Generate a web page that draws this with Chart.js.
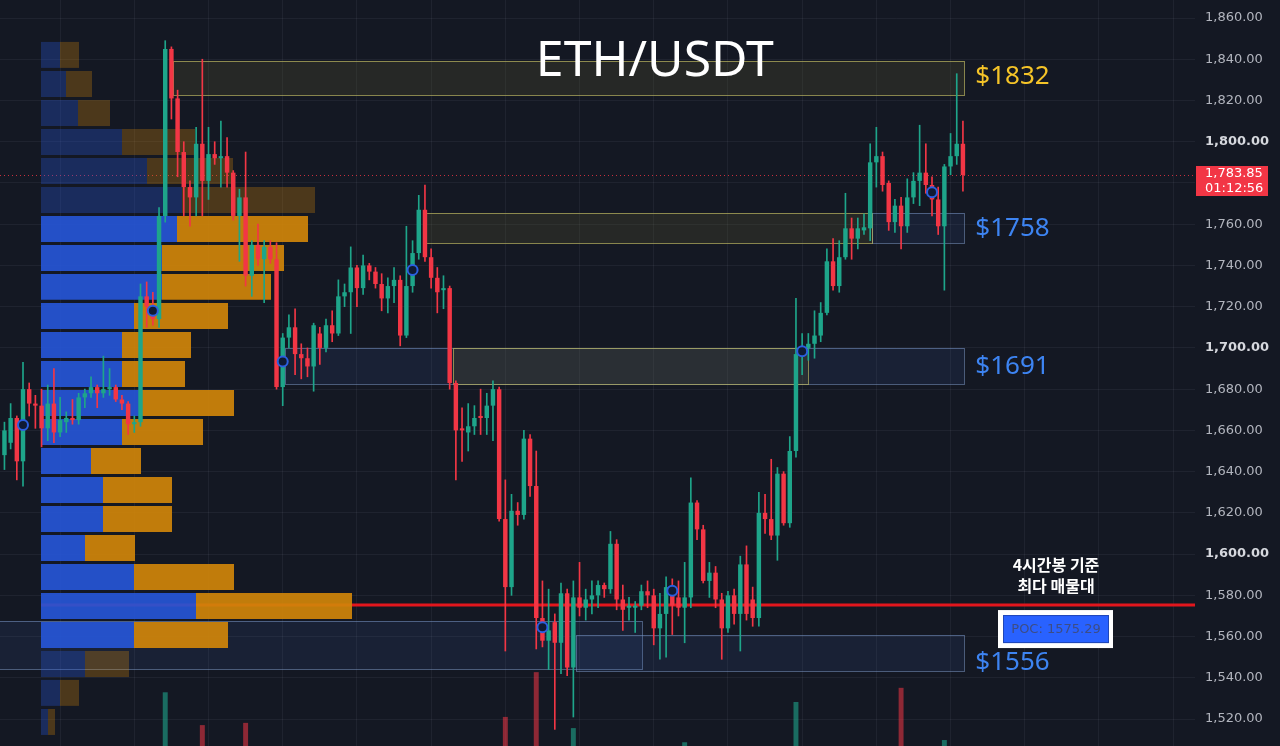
<!DOCTYPE html>
<html>
<head>
<meta charset="utf-8">
<title>ETH/USDT</title>
<script src="https://cdn.jsdelivr.net/npm/chart.js@4.4.1/dist/chart.umd.min.js"></script>
<style>
    html, body { margin: 0; padding: 0; background: #141823; }
    #wrap { position: relative; width: 1280px; height: 746px; }
    canvas { display: block; }
</style>
</head>
<body>
<div id="wrap"><canvas id="chart" width="1280" height="746"></canvas></div>
<script>
// 4h candles, oldest first
const opens = [
    1648, 1654, 1666, 1645, 1680, 1673, 1672, 1661, 1673, 1659,
    1664, 1666, 1665, 1676, 1678, 1681, 1678, 1680, 1681, 1675,
    1673, 1663, 1664, 1725, 1720, 1714, 1764, 1845, 1821, 1795,
    1778, 1773, 1799, 1781, 1794, 1792, 1793, 1785, 1764, 1773,
    1735, 1750, 1743, 1749, 1743, 1681, 1705, 1710, 1697, 1695,
    1691, 1707, 1700, 1711, 1707, 1725, 1727, 1739, 1729, 1740,
    1737, 1731, 1724, 1730, 1733, 1706, 1730, 1746, 1767, 1744,
    1734, 1728, 1729, 1683, 1661, 1659, 1662, 1667, 1666, 1672,
    1680, 1617, 1584, 1621, 1619, 1656, 1633, 1569, 1558, 1567,
    1557, 1581, 1545, 1579, 1574, 1578, 1580, 1585, 1583, 1605,
    1578, 1574, 1574, 1575, 1582, 1580, 1564, 1571, 1582, 1579,
    1574, 1579, 1625, 1612, 1587, 1591, 1578, 1564, 1580, 1571,
    1595, 1578, 1569, 1620, 1617, 1609, 1639, 1615, 1650, 1697,
    1700, 1702, 1706, 1717, 1742, 1730, 1744, 1758, 1753, 1757,
    1758, 1790, 1793, 1780, 1761, 1769, 1759, 1773, 1781, 1785,
    1779, 1772, 1759, 1788, 1793, 1799
];
const highs = [
    1664, 1673, 1667, 1693, 1683, 1677, 1680, 1682, 1690, 1676,
    1669, 1675, 1678, 1680, 1686, 1682, 1696, 1690, 1682, 1677,
    1674, 1667, 1731, 1732, 1727, 1768, 1849, 1846, 1825, 1800,
    1781, 1807, 1840, 1807, 1800, 1810, 1802, 1786, 1777, 1795,
    1752, 1760, 1752, 1752, 1751, 1707, 1716, 1719, 1702, 1700,
    1712, 1710, 1714, 1718, 1733, 1731, 1749, 1740, 1745, 1741,
    1739, 1736, 1734, 1739, 1735, 1759, 1752, 1774, 1779, 1748,
    1739, 1735, 1730, 1684, 1671, 1673, 1672, 1680, 1678, 1684,
    1681, 1636, 1629, 1625, 1660, 1658, 1650, 1587, 1583, 1571,
    1586, 1583, 1587, 1596, 1583, 1587, 1587, 1586, 1611, 1607,
    1585, 1579, 1577, 1585, 1587, 1583, 1581, 1589, 1588, 1587,
    1596, 1637, 1626, 1614, 1596, 1594, 1581, 1582, 1583, 1599,
    1604, 1584, 1630, 1629, 1646, 1642, 1640, 1657, 1724, 1707,
    1707, 1718, 1722, 1748, 1753, 1752, 1775, 1763, 1763, 1765,
    1799, 1807, 1795, 1781, 1772, 1773, 1782, 1785, 1808, 1799,
    1783, 1778, 1789, 1804, 1833, 1810
];
const lows = [
    1641, 1651, 1636, 1633, 1667, 1661, 1652, 1655, 1654, 1657,
    1659, 1663, 1663, 1671, 1676, 1671, 1676, 1677, 1674, 1670,
    1658, 1659, 1662, 1710, 1711, 1710, 1761, 1811, 1783, 1764,
    1759, 1764, 1764, 1772, 1789, 1778, 1778, 1762, 1742, 1730,
    1725, 1740, 1722, 1741, 1680, 1672, 1700, 1687, 1685, 1686,
    1679, 1692, 1698, 1703, 1706, 1720, 1707, 1720, 1726, 1733,
    1729, 1718, 1717, 1722, 1701, 1705, 1727, 1743, 1742, 1729,
    1717, 1719, 1680, 1636, 1645, 1650, 1658, 1658, 1658, 1655,
    1616, 1553, 1580, 1614, 1617, 1628, 1554, 1555, 1544, 1515,
    1542, 1541, 1521, 1570, 1568, 1571, 1574, 1579, 1581, 1573,
    1563, 1568, 1562, 1573, 1574, 1556, 1549, 1550, 1561, 1570,
    1557, 1574, 1607, 1586, 1579, 1574, 1549, 1562, 1566, 1553,
    1568, 1565, 1565, 1610, 1607, 1597, 1614, 1613, 1647, 1687,
    1694, 1695, 1703, 1716, 1728, 1727, 1743, 1743, 1748, 1755,
    1752, 1778, 1776, 1757, 1756, 1748, 1756, 1770, 1769, 1775,
    1764, 1755, 1728, 1784, 1789, 1776
];
const closes = [
    1660, 1666, 1645, 1680, 1673, 1672, 1661, 1673, 1659, 1665,
    1666, 1665, 1676, 1678, 1681, 1678, 1680, 1681, 1675, 1673,
    1663, 1664, 1725, 1720, 1714, 1764, 1845, 1821, 1795, 1778,
    1773, 1799, 1781, 1794, 1792, 1793, 1785, 1764, 1773, 1735,
    1750, 1743, 1749, 1743, 1681, 1705, 1710, 1697, 1695, 1691,
    1711, 1700, 1711, 1707, 1725, 1727, 1739, 1729, 1740, 1737,
    1731, 1724, 1730, 1733, 1706, 1730, 1746, 1767, 1744, 1734,
    1727, 1729, 1683, 1660, 1660, 1662, 1666, 1666, 1672, 1680,
    1617, 1584, 1621, 1619, 1656, 1633, 1569, 1558, 1563, 1557,
    1581, 1545, 1579, 1574, 1578, 1580, 1585, 1583, 1605, 1578,
    1573, 1575, 1575, 1582, 1580, 1564, 1571, 1584, 1575, 1574,
    1579, 1625, 1612, 1587, 1591, 1578, 1564, 1580, 1571, 1595,
    1571, 1569, 1620, 1617, 1609, 1639, 1615, 1650, 1697, 1699,
    1702, 1706, 1717, 1742, 1730, 1744, 1758, 1753, 1758, 1758.5,
    1790, 1793, 1779, 1761, 1769, 1759, 1773, 1781, 1785, 1779,
    1772, 1759, 1788, 1793, 1799, 1783.85
];

// only the tallest volume bars reach into the visible area
const volumeIdx = [26, 32, 39, 81, 86, 92, 110, 128, 145, 152];
const volumeVals = [72, 28, 31, 39, 99, 24, 5, 59, 78, 8];

// pivot markers
const markerIdx = [3, 24, 45, 66, 87, 108, 129, 150];
const markerPrices = [1662.6, 1718, 1693.4, 1737.8, 1564.5, 1582.2, 1698.4, 1775.5];

// visible-range volume profile (row centre price, buy / sell volume)
const profilePrices = [1842.1, 1828.0, 1813.9, 1799.9, 1785.8, 1771.7, 1757.7, 1743.6, 1729.6, 1715.5, 1701.4, 1687.4,
    1673.3, 1659.2, 1645.2, 1631.1, 1617.0, 1603.0, 1588.9, 1574.8, 1560.8, 1546.7, 1532.7, 1518.6];
const profileBuy = [19, 25, 37, 81, 106, 141, 136, 121, 121, 93, 81, 81, 100, 81, 50, 62, 62, 44, 93, 155, 93, 44, 19, 7];
const profileSell = [19, 26, 32, 73, 86, 133, 131, 122, 109, 94, 69, 63, 93, 81, 50, 69, 69, 50, 100, 156, 94, 44, 19, 7];
const valueAreaHigh = 1764.7;
const valueAreaLow = 1553.7;
const pocPrice = 1575.29;

// zones (candle index range, price range)
const zoneKind = ['demand', 'demand', 'demand', 'demand', 'supply', 'supply', 'supply'];
const zoneStart = [45.4, -2, 92.4, 140.3, 27.3, 68.1, 72.6];
const zoneEnd = [155.2, 103.1, 155.2, 155.2, 155.2, 140.3, 130.0];
const zoneTop = [1700.0, 1567.5, 1560.6, 1765.3, 1839.3, 1765.3, 1700.0];
const zoneBottom = [1682.5, 1544.2, 1543.3, 1750.9, 1822.7, 1750.9, 1682.5];

// level captions and the price each one sits at
const levelLabels = ['$1832', '$1758', '$1691', '$1556'];
const levelLabelPrices = [1831.5, 1758, 1690.8, 1547.6];
const levelKind = ['supply', 'demand', 'demand', 'demand'];
const labelIdx = 157;

const gridIdx = [9, 21, 33, 45, 57, 69, 81, 93, 105, 117, 129, 141, 153, 165, 177, 189];
const countdown = '01:12:56';

const BG = '#141823';
const UP = '#1ea58a';
const DOWN = '#f23645';
const ZONE_STYLE = {
    supply: { fill: 'rgba(110,105,50,0.2)', line: 'rgba(185,180,95,0.7)', text: '#f5c428' },
    demand: { fill: 'rgba(60,100,180,0.13)', line: 'rgba(120,150,195,0.55)', text: '#3d84f2' }
};

const lastPrice = closes[closes.length - 1];
const isUp = i => closes[i] >= opens[i];

function fmtPrice(v) {
    return v.toLocaleString('en-US', { minimumFractionDigits: 2, maximumFractionDigits: 2 });
}

function inValueArea(p) {
    return p <= valueAreaHigh && p >= valueAreaLow;
}

const overlayPlugin = {
    id: 'overlay',
    beforeDraw(chart) {
        const ctx = chart.ctx;
        ctx.save();
        ctx.fillStyle = BG;
        ctx.fillRect(0, 0, chart.width, chart.height);
        ctx.restore();
    },
    beforeDatasetsDraw(chart) {
        const { ctx, chartArea: a, scales: { x, y, xv } } = chart;
        ctx.save();
        ctx.beginPath();
        ctx.rect(a.left, a.top, a.right - a.left, a.bottom - a.top);
        ctx.clip();

        zoneStart.forEach((s, k) => {
            const st = ZONE_STYLE[zoneKind[k]];
            const x0 = Math.round(x.getPixelForValue(s));
            const x1 = Math.round(x.getPixelForValue(zoneEnd[k]));
            const y0 = Math.round(y.getPixelForValue(zoneTop[k]));
            const y1 = Math.round(y.getPixelForValue(zoneBottom[k]));
            ctx.fillStyle = st.fill;
            ctx.fillRect(x0, y0, x1 - x0, y1 - y0);
            ctx.strokeStyle = st.line;
            ctx.lineWidth = 1;
            ctx.strokeRect(x0 + 0.5, y0 + 0.5, x1 - x0, y1 - y0);
        });

        // point of control
        const py = y.getPixelForValue(pocPrice);
        ctx.strokeStyle = '#e3161d';
        ctx.lineWidth = 3;
        ctx.beginPath();
        ctx.moveTo(xv.getPixelForValue(0), py);
        ctx.lineTo(a.right, py);
        ctx.stroke();

        // last price
        const ly = Math.round(y.getPixelForValue(lastPrice)) + 0.5;
        ctx.setLineDash([1, 3]);
        ctx.strokeStyle = 'rgba(242,54,69,0.8)';
        ctx.lineWidth = 1;
        ctx.beginPath();
        ctx.moveTo(a.left, ly);
        ctx.lineTo(a.right, ly);
        ctx.stroke();
        ctx.restore();
    },
    afterDatasetsDraw(chart) {
        const { ctx, chartArea: a, scales: { x, y } } = chart;
        ctx.save();

        ctx.fillStyle = '#ffffff';
        ctx.font = '50px "Noto Sans"';
        ctx.textAlign = 'center';
        ctx.textBaseline = 'middle';
        ctx.fillText('ETH/USDT', a.left + (a.right - a.left) * 0.548, a.top + 62);

        const py = y.getPixelForValue(pocPrice);
        const cx = a.right - 139;
        ctx.fillStyle = '#ffffff';
        ctx.font = 'bold 16px "Noto Sans CJK KR"';
        ctx.fillText('4시간봉 기준', cx, py - 40);
        ctx.fillText('최다 매물대', cx, py - 19);

        // POC tag
        ctx.fillStyle = '#ffffff';
        ctx.fillRect(a.right - 197, py + 5, 115, 38);
        ctx.fillStyle = '#2962ff';
        ctx.fillRect(a.right - 192, py + 10, 106, 28);
        ctx.strokeStyle = '#1f47b8';
        ctx.lineWidth = 1;
        ctx.strokeRect(a.right - 191.5, py + 10.5, 105, 27);
        ctx.fillStyle = '#3d4d85';
        ctx.font = '13px "DejaVu Sans"';
        ctx.fillText('POC: ' + pocPrice.toFixed(2), a.right - 139, py + 25);

        ctx.textAlign = 'left';
        ctx.font = '26px "Noto Sans"';
        levelLabels.forEach((t, k) => {
            ctx.fillStyle = ZONE_STYLE[levelKind[k]].text;
            ctx.fillText(t, x.getPixelForValue(labelIdx), y.getPixelForValue(levelLabelPrices[k]));
        });
        ctx.restore();
    },
    afterDraw(chart) {
        const { ctx, chartArea: a, scales: { y } } = chart;
        const ty = Math.round(y.getPixelForValue(lastPrice));
        ctx.save();
        ctx.fillStyle = DOWN;
        ctx.fillRect(a.right + 1, ty - 9, 72, 30);
        ctx.fillStyle = '#ffffff';
        ctx.font = '13px "DejaVu Sans"';
        ctx.textAlign = 'left';
        ctx.textBaseline = 'middle';
        ctx.fillText(fmtPrice(lastPrice), a.right + 10, ty - 1);
        ctx.fillText(countdown, a.right + 10, ty + 14);
        ctx.restore();
    }
};

const bodies = opens.map((o, i) => ({ x: i, y: [o, closes[i]] }));
const wicks = lows.map((l, i) => ({ x: i, y: [l, highs[i]] }));
const candleColors = opens.map((o, i) => isUp(i) ? UP : DOWN);
const volumes = volumeIdx.map((i, k) => ({ x: i, y: volumeVals[k] }));
const volumeColors = volumeIdx.map(i => isUp(i) ? 'rgba(30,165,138,0.6)' : 'rgba(242,54,69,0.55)');
const markers = markerIdx.map((i, k) => ({ x: i, y: markerPrices[k] }));

const buyBars = profilePrices.map((p, k) => ({ y: p, x: [0, profileBuy[k]] }));
const sellBars = profilePrices.map((p, k) => ({ y: p, x: [profileBuy[k], profileBuy[k] + profileSell[k]] }));
const buyColors = profilePrices.map(p => inValueArea(p) ? 'rgba(38,86,214,0.92)' : 'rgba(38,86,214,0.33)');
const sellColors = profilePrices.map(p => inValueArea(p) ? 'rgba(208,134,10,0.92)' : 'rgba(208,134,10,0.3)');

const yMin = 1506.94, yMax = 1868.73;

new Chart(document.getElementById('chart'), {
    type: 'bar',
    data: {
        datasets: [
            {
                type: 'line', data: markers, xAxisID: 'x', yAxisID: 'y', order: 0,
                showLine: false, pointRadius: 5, pointBorderWidth: 2,
                pointBackgroundColor: '#101a33', pointBorderColor: '#2b5fe0'
            },
            {
                data: bodies, xAxisID: 'x', yAxisID: 'y', order: 1, grouped: false,
                backgroundColor: candleColors, barPercentage: 0.72, categoryPercentage: 1, minBarLength: 1
            },
            {
                data: wicks, xAxisID: 'x', yAxisID: 'y', order: 2, grouped: false,
                backgroundColor: candleColors, barThickness: 1
            },
            {
                data: volumes, xAxisID: 'x', yAxisID: 'yv', order: 3, grouped: false,
                backgroundColor: volumeColors, barPercentage: 0.8, categoryPercentage: 1
            },
            {
                data: sellBars, indexAxis: 'y', xAxisID: 'xv', yAxisID: 'yp', order: 4, grouped: false,
                backgroundColor: sellColors, barPercentage: 0.9, categoryPercentage: 1
            },
            {
                data: buyBars, indexAxis: 'y', xAxisID: 'xv', yAxisID: 'yp', order: 5, grouped: false,
                backgroundColor: buyColors, barPercentage: 0.9, categoryPercentage: 1
            }
        ]
    },
    options: {
        responsive: false,
        animation: false,
        events: [],
        devicePixelRatio: 1,
        layout: { padding: 0, autoPadding: false },
        plugins: { legend: { display: false }, tooltip: { enabled: false } },
        scales: {
            x: {
                type: 'linear', axis: 'x', position: 'bottom', offset: false,
                min: -0.72, max: 192.53,
                afterBuildTicks: s => { s.ticks = gridIdx.map(v => ({ value: v })); },
                afterFit: s => { s.height = 0; s.paddingLeft = 0; s.paddingRight = 0; },
                ticks: { display: false },
                grid: { color: 'rgba(240,243,250,0.055)', drawTicks: false, offset: false },
                border: { display: false }
            },
            y: {
                type: 'linear', axis: 'y', position: 'right', offset: false,
                min: yMin, max: yMax,
                afterFit: s => { s.width = 85; s.paddingTop = 0; s.paddingBottom = 0; },
                ticks: {
                    stepSize: 20, includeBounds: false, padding: 10,
                    callback: v => fmtPrice(v),
                    color: c => c.tick && c.tick.value % 100 === 0 ? '#d6d8de' : '#b2b5be',
                    font: c => ({ family: 'DejaVu Sans', size: 13, weight: c.tick && c.tick.value % 100 === 0 ? 'bold' : 'normal' })
                },
                grid: { color: 'rgba(240,243,250,0.055)', drawTicks: false },
                border: { display: false }
            },
            yp: { type: 'linear', axis: 'y', position: 'right', display: false, offset: false, min: yMin, max: yMax, grid: { offset: false } },
            yv: { type: 'linear', axis: 'y', position: 'right', display: false, offset: false, min: 0, max: 1000 },
            xv: { type: 'linear', axis: 'x', position: 'bottom', display: false, offset: false, min: -41, max: 1154, grid: { offset: false } }
        }
    },
    plugins: [overlayPlugin]
});
</script>
</body>
</html>
